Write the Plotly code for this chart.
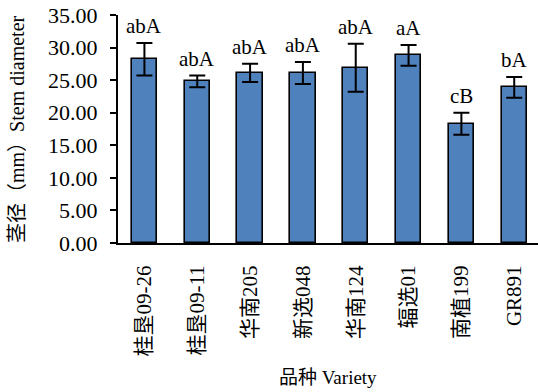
import plotly.graph_objects as go

# Stem diameter by variety (mean ± error) with significance letters
varieties = ["桂垦09-26", "桂垦09-11", "华南205", "新选048", "华南124", "辐选01", "南植199", "GR891"]
stem_diameter = [28.2, 24.8, 26.1, 26.1, 26.9, 28.8, 18.3, 23.9]
error = [2.5, 0.9, 1.4, 1.7, 3.7, 1.6, 1.7, 1.6]
letters = ["abA", "abA", "abA", "abA", "abA", "aA", "cB", "bA"]
y_ticks = [0, 5, 10, 15, 20, 25, 30, 35]

FONT = "'Liberation Serif', 'Times New Roman', 'Noto Sans CJK SC', serif"
W, H = 538, 392
L, R, T, B = 118, 0, 15, 149
plot_w, plot_h = W - L - R, H - T - B

fig = go.Figure(
    go.Bar(
        x=list(range(len(varieties))),
        y=stem_diameter,
        width=0.48,
        marker=dict(color="#4F81BD", line=dict(color="black", width=1.6)),
        error_y=dict(type="data", array=error, visible=True,
                     color="black", thickness=2, width=8),
    )
)

for i, (v, e, lab) in enumerate(zip(stem_diameter, error, letters)):
    fig.add_annotation(x=i, y=v + e, text=lab, showarrow=False,
                       xref="x", yref="y", yanchor="bottom", yshift=3,
                       font=dict(family=FONT, size=21, color="black"))

# axis titles placed in paper coordinates
fig.add_annotation(x=0.5, y=-(390 - (T + plot_h)) / plot_h, xref="paper", yref="paper",
                   text="品种 Variety", showarrow=False, yanchor="bottom",
                   font=dict(family=FONT, size=19, color="black"))
fig.add_annotation(x=(17 - L) / plot_w, y=0.5, xref="paper", yref="paper",
                   text="茎径（mm）Stem diameter", showarrow=False, textangle=-90,
                   xanchor="center", yanchor="middle",
                   font=dict(family=FONT, size=20, color="black"))

fig.update_xaxes(
    range=[-0.5, 7.45],
    tickmode="array", tickvals=list(range(len(varieties))), ticktext=varieties,
    tickangle=-90, ticks="", showline=True, linecolor="black", linewidth=2,
    showgrid=False, zeroline=False, ticklabelstandoff=12,
    tickfont=dict(family=FONT, size=21, color="black"),
)
fig.update_yaxes(
    range=[0, 35], tickmode="array", tickvals=y_ticks,
    ticktext=[f"{t:.2f}" for t in y_ticks],
    ticks="outside", ticklen=6, tickwidth=2, tickcolor="black",
    showline=True, linecolor="black", linewidth=2,
    showgrid=False, zeroline=False, ticklabelstandoff=8,
    tickfont=dict(family=FONT, size=22, color="black"),
)

fig.update_layout(
    width=W, height=H,
    margin=dict(l=L, r=R, t=T, b=B, pad=0),
    paper_bgcolor="white", plot_bgcolor="white",
    showlegend=False, bargap=0,
)

fig.write_html("out.html")
